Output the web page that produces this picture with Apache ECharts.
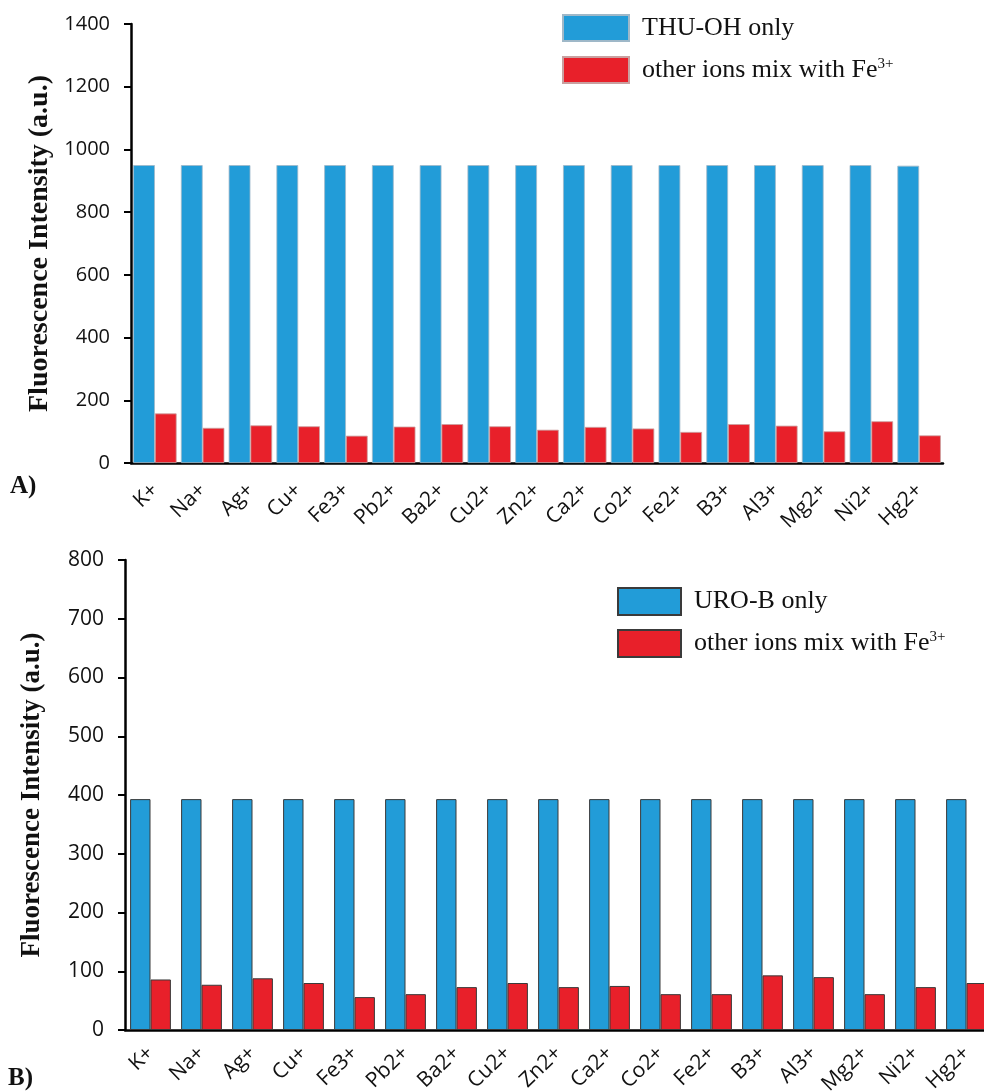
<!DOCTYPE html>
<html><head><meta charset="utf-8">
<script src="https://cdn.jsdelivr.net/npm/echarts@6/dist/echarts.min.js"></script>
<style>html,body{margin:0;padding:0;background:#fff}#c{width:984px;height:1091px}</style>
</head><body><div id="c"></div>
<script>
const categories = ['K+','Na+','Ag+','Cu+','Fe3+','Pb2+','Ba2+','Cu2+','Zn2+','Ca2+','Co2+','Fe2+','B3+','Al3+','Mg2+','Ni2+','Hg2+'];
const thuOnly = [950,950,950,950,950,950,950,950,950,950,950,950,950,950,950,950,948];
const thuMix  = [158,112,120,117,87,116,124,117,106,115,110,99,124,119,101,133,88];
const uroOnly = [393,393,393,393,393,393,393,393,393,393,393,393,393,393,393,393,393];
const uroMix  = [86,77,88,80,56,61,73,80,73,75,61,61,93,90,61,73,80];
const ticksA = {min:0, max:1400, interval:200};
const ticksB = {min:0, max:800, interval:100};

const BLUE = '#229CD8', RED = '#E8202A';
const chart = echarts.init(document.getElementById('c'));
const serif = '"Liberation Serif","DejaVu Serif",serif';
const sans = '"Open Sans","Noto Sans",sans-serif';
const nameMap = {
  'THU-OH only':'THU-OH only',
  'mixA':'other ions mix with Fe{sup|3+}',
  'URO-B only':'URO-B only',
  'mixB':'other ions mix with Fe{sup|3+}'
};
function legendText(padTop){
  return {fontFamily:serif, fontSize:26, color:'#111', padding:[0,0,0,8],
    rich:{sup:{fontFamily:serif, fontSize:15, color:'#111', verticalAlign:'top', padding:[0,0,12,0]}}};
}
function xAx(gi, margin){
  return {type:'category', gridIndex:gi, data:categories,
    axisLine:{lineStyle:{color:'#000', width:2.5}}, axisTick:{show:false},
    axisLabel:{rotate:44, interval:0, fontFamily:sans, fontSize:21, color:'#111', margin:margin}};
}
function yAx(gi, t, gap, fs, nfs){
  return {type:'value', gridIndex:gi, min:t.min, max:t.max, interval:t.interval,
    name:'Fluorescence Intensity (a.u.)', nameLocation:'middle', nameGap:gap,
    nameTextStyle:{fontFamily:serif, fontWeight:'bold', fontSize:nfs, color:'#111'},
    axisLine:{show:true, lineStyle:{color:'#000', width:2.5}},
    axisTick:{show:true, inside:false, length:7, lineStyle:{color:'#000', width:2}},
    splitLine:{show:false},
    axisLabel:{fontFamily:sans, fontSize:fs, color:'#111', margin:21, formatter:v=>String(v)}};
}
chart.setOption({
  animation:false,
  backgroundColor:'#fff',
  grid:[
    {left:131, top:24, width:812, height:439, containLabel:false, outerBoundsMode:'none'},
    {left:125, top:560, width:867, height:470, containLabel:false, outerBoundsMode:'none'}
  ],
  xAxis:[xAx(0,24), xAx(1,20)],
  yAxis:[yAx(0,ticksA,72,20,28), yAx(1,ticksB,79,21,27)],
  legend:[
    {orient:'vertical', left:562, top:14, padding:0, itemWidth:66, itemHeight:26, itemGap:14,
     data:['THU-OH only','mixA'], formatter:n=>nameMap[n], textStyle:legendText(), icon:'rect'},
    {orient:'vertical', left:617, top:587, padding:0, itemWidth:63, itemHeight:27, itemGap:13,
     data:['URO-B only','mixB'], formatter:n=>nameMap[n], textStyle:legendText(), icon:'rect'}
  ],
  series:[
    {name:'THU-OH only', type:'bar', xAxisIndex:0, yAxisIndex:0, data:thuOnly, barGap:'0%', barCategoryGap:'9%',
     itemStyle:{color:BLUE, borderColor:'#9fb8c8', borderWidth:0.8}},
    {name:'mixA', type:'bar', xAxisIndex:0, yAxisIndex:0, data:thuMix,
     itemStyle:{color:RED, borderColor:'#c9a0a0', borderWidth:0.8}},
    {name:'URO-B only', type:'bar', xAxisIndex:1, yAxisIndex:1, data:uroOnly, barGap:'0%', barCategoryGap:'20%',
     itemStyle:{color:BLUE, borderColor:'#3a3a3a', borderWidth:1}},
    {name:'mixB', type:'bar', xAxisIndex:1, yAxisIndex:1, data:uroMix,
     itemStyle:{color:RED, borderColor:'#3a3a3a', borderWidth:1}}
  ],
  graphic:[
    {type:'text', left:10, top:474, style:{text:'A)', font:'bold 25px '+serif, fill:'#111'}},
    {type:'text', left:8, top:1066, style:{text:'B)', font:'bold 25px '+serif, fill:'#111'}}
  ]
});
</script></body></html>
